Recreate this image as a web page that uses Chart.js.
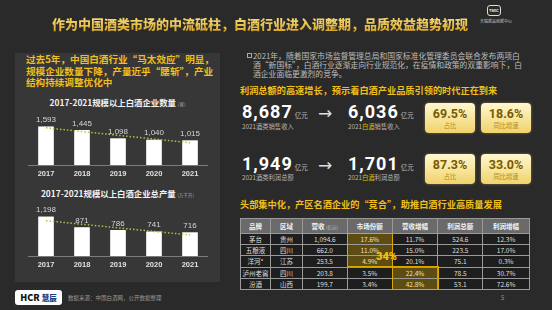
<!DOCTYPE html>
<html>
<head>
<meta charset="utf-8">
<script src="https://cdn.jsdelivr.net/npm/chart.js@4.4.0/dist/chart.umd.min.js"></script>
<style>
body{margin:0;width:552px;height:310px;background:#2a2a2a;overflow:hidden;position:relative;font-family:"Noto Sans CJK SC",sans-serif;}
.a{position:absolute;white-space:nowrap;}
.title{left:52px;top:15px;font-size:13px;line-height:18px;font-weight:900;background:linear-gradient(#fbe58a,#d8a21c);-webkit-background-clip:text;background-clip:text;color:transparent;}
.panel{left:15px;top:53px;width:205px;height:229px;background:#373737;}
.ptxt{left:26px;font-size:9.6px;line-height:11px;font-weight:700;color:#f0bf1a;}
.ctitle{left:15px;width:205px;text-align:center;font-size:8.4px;line-height:12px;font-weight:700;color:#f2f2f2;}
.ctitle span{font-size:4.5px;color:#aaa;font-weight:400;}
.para{left:253px;font-size:7.8px;line-height:9px;color:#bdbdbd;}
.head{left:240px;font-size:9.2px;line-height:12px;font-weight:700;color:#f0bf1a;}
.big{font-family:Roboto,"Liberation Sans",sans-serif;font-size:18px;line-height:20px;font-weight:700;color:#fff;letter-spacing:1px;}
.big span{font-family:"Noto Sans CJK SC";font-size:6.5px;letter-spacing:0;font-weight:400;color:#bbb;margin-left:2px;}
.cap{font-size:6.3px;line-height:8px;color:#b5b5b5;}
.cap b{color:#e6b800;font-weight:400;}
.arrow{font-family:"DejaVu Sans";font-size:17px;line-height:20px;color:#ddd;}
.box{width:50px;height:30px;border-radius:4px;background:linear-gradient(#fff7cf,#f1d36c);text-align:center;box-shadow:0 0 3px rgba(255,220,120,.4);}
.box .v{font-family:Roboto,"Liberation Sans",sans-serif;font-size:12.5px;font-weight:700;color:#7a5a00;line-height:14px;margin-top:4px;}
.box .l{font-size:6.3px;color:#b08a20;line-height:9px;}
table{position:absolute;left:240px;top:218px;width:290px;border-collapse:collapse;font-size:6.5px;color:#dedede;text-align:center;}
td,th{border:1px solid #9a9a9a;padding:0;height:10.2px;line-height:10px;}
th{background:#6a6a6a;height:14px;font-weight:700;color:#f4f4f4;}
th span{font-size:4.5px;color:#ccc;font-weight:400;}
td{background:#1e1e1e;}
td.hl{background:#5e4c12;color:#f0e3b0;}
.hlbox{position:absolute;border:1.5px solid #d9a800;box-sizing:border-box;}
.pct{left:376px;top:250px;font-family:Roboto,"Liberation Sans",sans-serif;font-size:11px;line-height:14px;font-weight:900;color:#f2c20f;}
.logo{left:15px;top:290px;width:47px;height:15px;background:#fff;border-radius:3px;font-size:9px;line-height:15px;text-align:center;font-weight:900;color:#111;}
.logo span{color:#1d3b78;font-size:7.5px;}
.src{left:68px;top:294px;font-size:5.5px;line-height:8px;color:#999;}
.page{left:501px;top:294px;font-size:6px;line-height:8px;color:#999;}
</style>
</head>
<body>
<div class="a title">作为中国酒类市场的中流砥柱，白酒行业进入调整期，品质效益趋势初现</div>
<div class="a" style="left:487px;top:5px;width:12px;height:9px;border:1px solid #ddd;border-radius:3px;font-size:4px;line-height:9px;color:#eee;text-align:center;font-family:'Liberation Sans';font-weight:700;">TMIC</div>
<div class="a" style="left:480px;top:19px;font-size:4px;line-height:5px;color:#ccc;">天猫新品创新中心</div>

<div class="a panel"></div>
<div class="a ptxt" style="top:54px;">过去5年，中国白酒行业“马太效应”明显，</div>
<div class="a ptxt" style="top:65.5px;">规模企业数量下降，产量近乎“腰斩”，产业</div>
<div class="a ptxt" style="top:77px;">结构持续调整优化中</div>
<div class="a ctitle" style="top:96px;">2017-2021规模以上白酒企业数量 <span>(家)</span></div>
<div class="a ctitle" style="top:187px;">2017-2021规模以上白酒企业总产量 <span>(万千升)</span></div>
<div class="a" style="left:28px;top:111px;width:180px;height:71px;"><canvas id="c1"></canvas></div>
<div class="a" style="left:28px;top:201px;width:180px;height:72px;"><canvas id="c2"></canvas></div>

<div class="a" style="left:247px;top:53px;width:3px;height:3px;border:1px solid #e0b000;"></div>
<div class="a para" style="top:50.5px;">2021年，随着国家市场监督管理总局和国家标准化管理委员会联合发布两项白</div>
<div class="a para" style="top:59.8px;">酒“新国标”，白酒行业逐渐走向行业规范化，在疫情和政策的双重影响下，白</div>
<div class="a para" style="top:69.1px;">酒企业面临更激烈的竞争。</div>
<div class="a head" style="top:84px;">利润总额的高速增长，预示着白酒产业品质引领的时代正在到来</div>

<div class="a big" style="left:242px;top:102px;">8,687<span>亿元</span></div>
<div class="a cap" style="left:242px;top:123px;">2021酒类销售收入</div>
<div class="a arrow" style="left:318px;top:103px;">→</div>
<div class="a big" style="left:348px;top:102px;">6,036<span>亿元</span></div>
<div class="a cap" style="left:348px;top:123px;">2021<b>白酒</b>销售收入</div>
<div class="a box" style="left:425px;top:103px;"><div class="v">69.5%</div><div class="l">占比</div></div>
<div class="a box" style="left:481px;top:103px;"><div class="v">18.6%</div><div class="l">同比增速</div></div>

<div class="a big" style="left:242px;top:154px;">1,949<span>亿元</span></div>
<div class="a cap" style="left:242px;top:174px;">2021酒类利润总额</div>
<div class="a arrow" style="left:318px;top:155px;">→</div>
<div class="a big" style="left:348px;top:154px;">1,701<span>亿元</span></div>
<div class="a cap" style="left:348px;top:174px;">2021<b>白酒</b>利润总额</div>
<div class="a box" style="left:425px;top:154px;"><div class="v">87.3%</div><div class="l">占比</div></div>
<div class="a box" style="left:481px;top:154px;"><div class="v">33.0%</div><div class="l">同比增速</div></div>

<div class="a head" style="top:198px;">头部集中化，产区名酒企业的“竞合”，助推白酒行业高质量发展</div>
<table id="tbl"></table>
<div class="hlbox" style="left:347px;top:233px;width:46px;height:34px;"></div>
<div class="hlbox" style="left:392px;top:266px;width:47px;height:24px;"></div>
<div class="a pct">34%</div>

<div class="a logo">HCR <span>慧辰</span></div>
<div class="a src">数据来源：中国白酒网，公开数据整理</div>
<div class="a page">5</div>

<script>
// chart data
var years = ['2017', '2018', '2019', '2020', '2021'];
var companyCount = [1593, 1445, 1098, 1040, 1015];
var companyTrend = [1550, 1394, 1238, 1082, 926];
var output = [1198, 871, 786, 741, 716];
var outputTrend = [1081, 972, 862, 753, 644];

// table data
var tblHead = ['品牌', '区域', '营收 <span>(亿元)</span>', '市场份额', '营收增幅', '利润总额', '利润增幅'];
var brands = ['茅台', '五粮液', '洋河*', '泸州老窖', '汾酒'];
var regions = ['贵州', '四川', '江苏', '四川', '山西'];
var revenue = ['1,094.6', '662.0', '253.5', '203.8', '199.7'];
var share = ['17.6%', '11.0%', '4.9%', '3.5%', '3.4%'];
var revenueGrowth = ['11.7%', '15.0%', '20.1%', '22.4%', '42.8%'];
var profit = ['524.6', '223.5', '75.1', '78.5', '53.1'];
var profitGrowth = ['12.3%', '17.0%', '0.3%', '30.7%', '72.6%'];

var widths = [30, 32, 45, 45, 46, 45, 47];
var html = '<tr>' + tblHead.map(function (h, i) {
    return '<th style="width:' + widths[i] + 'px">' + h + '</th>';
}).join('') + '</tr>';
brands.forEach(function (b, i) {
    html += '<tr><td>' + b + '</td><td>' + regions[i] + '</td><td>' + revenue[i] + '</td>' +
        '<td' + (i < 3 ? ' class="hl"' : '') + '>' + share[i] + '</td>' +
        '<td' + (i > 2 ? ' class="hl"' : '') + '>' + revenueGrowth[i] + '</td>' +
        '<td>' + profit[i] + '</td><td>' + profitGrowth[i] + '</td></tr>';
});
document.getElementById('tbl').innerHTML = html;

var barLabels = {
    id: 'barLabels',
    afterDatasetsDraw: function (chart) {
        var ctx = chart.ctx;
        var meta = chart.getDatasetMeta(0);
        var data = chart.data.datasets[0].data;
        ctx.save();
        ctx.font = '8px "Liberation Sans"';
        ctx.fillStyle = '#d6d6d6';
        ctx.textAlign = 'center';
        ctx.textBaseline = 'bottom';
        meta.data.forEach(function (bar, i) {
            ctx.fillText(data[i].toLocaleString('en-US'), bar.x, bar.y - 3);
        });
        ctx.restore();
    }
};

function makeChart(id, values, trend, max) {
    return new Chart(document.getElementById(id), {
        type: 'bar',
        data: {
            labels: years,
            datasets: [{
                data: values,
                backgroundColor: '#ffffff',
                barThickness: 15,
                order: 1
            }, {
                type: 'line',
                data: trend,
                borderColor: '#bdbd45',
                borderWidth: 1.5,
                borderDash: [1.5, 2],
                pointRadius: 0,
                order: 0
            }]
        },
        options: {
            responsive: true,
            maintainAspectRatio: false,
            animation: false,
            layout: {padding: {top: 6, left: 0, right: 0, bottom: 0}},
            plugins: {legend: {display: false}, tooltip: {enabled: false}},
            scales: {
                x: {
                    grid: {display: true, color: 'rgba(0,0,0,0)', drawTicks: false, drawOnChartArea: false},
                    border: {display: true, color: '#7c7c7c', width: 1},
                    ticks: {color: '#e0e0e0', padding: 4, font: {family: 'Liberation Sans', size: 7.5, weight: 'bold'}}
                },
                y: {display: false, min: 0, max: max}
            }
        },
        plugins: [barLabels]
    });
}

makeChart('c1', companyCount, companyTrend, 2000);
makeChart('c2', output, outputTrend, 1500);
</script>
</body>
</html>
